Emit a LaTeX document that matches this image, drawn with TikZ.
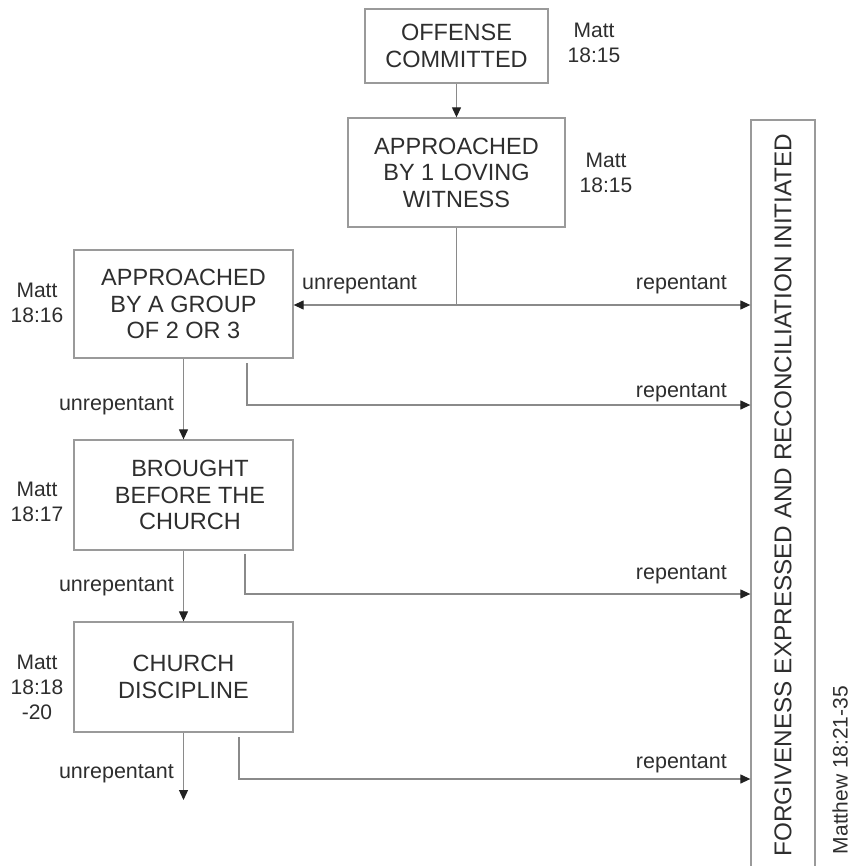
\documentclass[tikz,border=0pt]{standalone}
\usepackage{fontspec}
\setmainfont{Liberation Sans}
\usetikzlibrary{arrows.meta}
\definecolor{txt}{HTML}{2E2E2E}
\definecolor{ln}{HTML}{8A8A8A}
\definecolor{bx}{HTML}{9A9A9A}
\definecolor{tip}{HTML}{222222}
\tikzset{
  box/.style={draw=bx, line width=1.3pt, inner sep=0pt, align=center, text=txt,
    font=\fontsize{23.5}{26.5}\selectfont},
  ref/.style={align=center, text=txt, inner sep=0pt, font=\fontsize{21}{25}\selectfont},
  lab/.style={text=txt, inner sep=0pt, font=\fontsize{21.5}{25}\selectfont},
  conn/.style={draw=ln, line width=1.2pt},
  arr/.style={conn, -{Triangle[length=10pt,width=9pt,color=tip]}}
}
\begin{document}
\begin{tikzpicture}[x=1pt,y=-1pt]
\useasboundingbox (0,0) rectangle (852,866);
% boxes
\node[box, minimum width=183pt, minimum height=74pt] (b1) at (456.5,46) {OFFENSE\\COMMITTED};
\node[box, minimum width=217pt, minimum height=109pt] (b2) at (456.5,172.5) {APPROACHED\\BY 1 LOVING\\WITNESS};
\node[box, minimum width=219pt, minimum height=108pt] (b3) at (183.5,304) {APPROACHED\\BY A GROUP\\OF 2 OR 3};
\node[box, minimum width=219pt, minimum height=110pt] (b4) at (183.5,495) {\hspace*{13pt}BROUGHT\\\hspace*{13pt}BEFORE THE\\\hspace*{13pt}CHURCH};
\node[box, minimum width=219pt, minimum height=110pt] (b5) at (183.5,677) {CHURCH\\DISCIPLINE};
\node[box, minimum width=64pt, minimum height=750pt, font=\fontsize{24.3}{26}\selectfont] (fx) at (783,495)
  {\rotatebox{90}{FORGIVENESS EXPRESSED AND RECONCILIATION INITIATED}};
% references
\node[ref] (m1) at (594,43) {Matt\\18:15};
\node[ref] (m2) at (606,173) {Matt\\18:15};
\node[ref] (m3) at (37,303) {Matt\\18:16};
\node[ref] (m4) at (37,502) {Matt\\18:17};
\node[ref] (m5) at (37,687) {Matt\\18:18\\-20};
\node[ref, rotate=90] (mt) at (840,770) {Matthew 18:21-35};
% coordinates
\coordinate (j2) at (456.5,305);
\coordinate (r3) at (247,363);
\coordinate (r4) at (245,554);
\coordinate (r5) at (239,737);
\coordinate (e5) at (183.5,800);
% connectors
\draw[arr] (b1) -- (b2);
\draw[conn] (b2) -- (j2);
\draw[arr] (j2) -- (j2 -| b3.east);
\draw[arr] (j2) -- (j2 -| fx.west);
\draw[arr] (b3) -- (b4);
\draw[arr] (b4) -- (b5);
\draw[arr] (b5) -- (e5);
\draw[arr] (r3) -- ++(0,42) coordinate (k3) -- (k3 -| fx.west);
\draw[arr] (r4) -- ++(0,40) coordinate (k4) -- (k4 -| fx.west);
\draw[arr] (r5) -- ++(0,42) coordinate (k5) -- (k5 -| fx.west);
% labels
\node[lab, anchor=base west] (u2) at (302,290) {unrepentant};
\node[lab, anchor=base east] (p2) at (727,289) {repentant};
\node[lab, anchor=base east] (u3) at (174,410) {unrepentant};
\node[lab, anchor=base east] (p3) at (727,397) {repentant};
\node[lab, anchor=base east] (u4) at (174,591) {unrepentant};
\node[lab, anchor=base east] (p4) at (727,579) {repentant};
\node[lab, anchor=base east] (u5) at (174,778) {unrepentant};
\node[lab, anchor=base east] (p5) at (727,768) {repentant};
\end{tikzpicture}
\end{document}
